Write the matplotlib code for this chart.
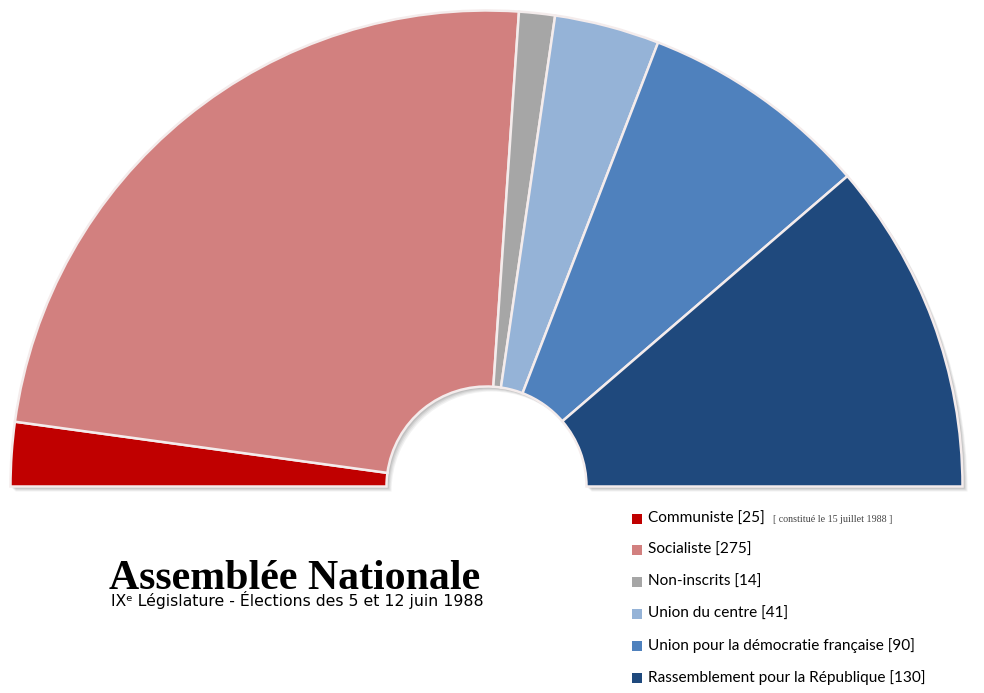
import matplotlib.pyplot as plt
from matplotlib.patches import Wedge

# seats per group, IXe législature (1988)
groups = ['Communiste', 'Socialiste', 'Non-inscrits', 'Union du centre',
          'Union pour la démocratie française', 'Rassemblement pour la République']
seats = [25, 275, 14, 41, 90, 130]
colors = ['#c00000', '#d2807f', '#a6a6a6', '#95b3d7', '#4f81bd', '#1f497d']
legend_labels = ['Communiste [25]', 'Socialiste [275]', 'Non-inscrits [14]', 'Union du centre [41]',
                 'Union pour la démocratie française [90]', 'Rassemblement pour la République [130]']
note = '[ constitué le 15 juillet 1988 ]'

W, H = 984, 693
fig = plt.figure(figsize=(W / 100, H / 100), dpi=100)
ax = fig.add_axes([0, 0, 1, 1])

cx, cy = 486.5, H - 486.5   # centre of the hemicycle (y up)
r_out, r_in = 476, 100

# soft shadow under the hemicycle
for k, a in [(5, 0.10), (4, 0.12), (3, 0.16), (2, 0.2)]:
    ax.add_patch(Wedge((cx + k, cy - k), r_out, 0, 180, width=r_out - r_in,
                       facecolor='#7f7f7f', edgecolor='none', alpha=a, zorder=0))

# the half-donut: seats plus an invisible lower half
wedges, _ = ax.pie(seats + [sum(seats)], colors=colors + ['none'], startangle=180,
                   counterclock=False, radius=r_out, center=(cx, cy),
                   wedgeprops=dict(width=r_out - r_in, edgecolor='#f4ecec', linewidth=1.8))
wedges[-1].set_visible(False)
for w in wedges:
    w.set_zorder(2)

ax.set_xlim(0, W)
ax.set_ylim(0, H)
ax.set_aspect('auto')
ax.axis('off')

# title block
ax.text(109, H - 589, 'Assemblée Nationale', family='Liberation Serif', fontweight='bold',
        fontsize=30.2, color='black', ha='left', va='baseline')
ax.text(111, H - 606, 'IXᵉ Législature - Élections des 5 et 12 juin 1988',
        family='DejaVu Sans', fontsize=11.3, color='black', ha='left', va='baseline')

# legend
row_y = [519, 550, 582, 614, 646, 678]
for lab, col, yy in zip(legend_labels, colors, row_y):
    ax.plot(637, H - yy, marker='s', markersize=6.5, color=col, markeredgewidth=0)
    ax.text(648, H - yy, lab, family='Lato', fontsize=11.1, color='black',
            ha='left', va='center')
ax.text(773, H - 519, note, family='Liberation Serif', fontsize=7.2, color='#444444',
        ha='left', va='center')

fig.savefig('out.png', dpi=100, facecolor='white')
